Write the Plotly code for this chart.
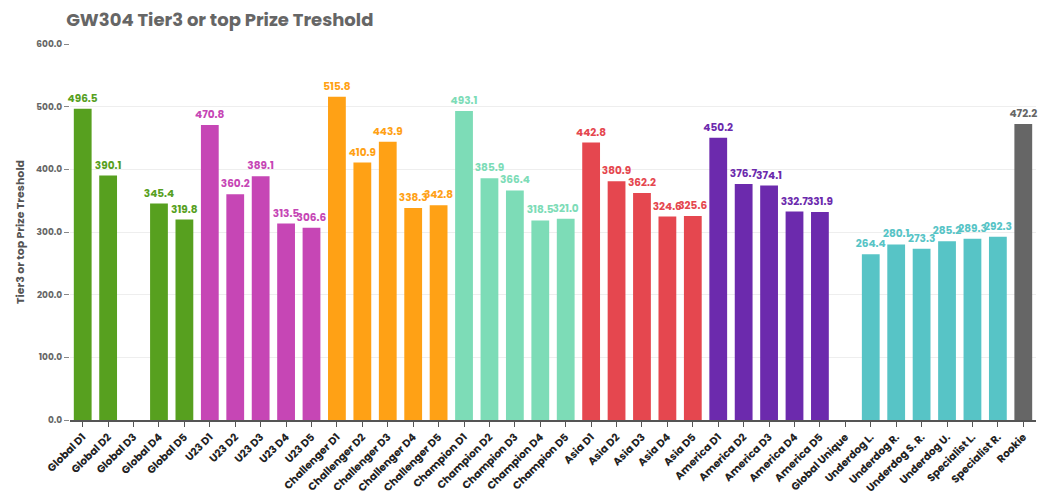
import plotly.graph_objects as go

categories = ["Global D1","Global D2","Global D3","Global D4","Global D5",
              "U23 D1","U23 D2","U23 D3","U23 D4","U23 D5",
              "Challenger D1","Challenger D2","Challenger D3","Challenger D4","Challenger D5",
              "Champion D1","Champion D2","Champion D3","Champion D4","Champion D5",
              "Asia D1","Asia D2","Asia D3","Asia D4","Asia D5",
              "America D1","America D2","America D3","America D4","America D5",
              "Global Unique",
              "Underdog L.","Underdog R.","Underdog S. R.","Underdog U.","Specialist L.","Specialist R.",
              "Rookie"]
values = [496.5, 390.1, None, 345.4, 319.8,
          470.8, 360.2, 389.1, 313.5, 306.6,
          515.8, 410.9, 443.9, 338.3, 342.8,
          493.1, 385.9, 366.4, 318.5, 321.0,
          442.8, 380.9, 362.2, 324.6, 325.6,
          450.2, 376.7, 374.1, 332.7, 331.9,
          None,
          264.4, 280.1, 273.3, 285.2, 289.3, 292.3,
          472.2]
group_colors = {
    "Global": "#57a01f", "U23": "#c646b5", "Challenger": "#ffa115",
    "Champion": "#7ddcb7", "Asia": "#e5474f", "America": "#6c2aad",
    "Special": "#57c4c6", "Rookie": "#666666",
}
groups = (["Global"]*5 + ["U23"]*5 + ["Challenger"]*5 + ["Champion"]*5 +
          ["Asia"]*5 + ["America"]*5 + ["Global"] + ["Special"]*6 + ["Rookie"])
colors = [group_colors[g] for g in groups]

font_family = "Poppins, 'Open Sans', Lato, sans-serif"

fig = go.Figure(go.Bar(
    x=categories, y=values,
    marker=dict(color=colors, line=dict(width=0)),
    text=[("%.1f" % v) if v is not None else "" for v in values],
    textposition="outside",
    constraintext="none",
    textfont=dict(color=colors, size=10.5, family=font_family, weight="bold"),
    cliponaxis=False,
    hoverinfo="x+y",
))

fig.update_layout(
    width=1048, height=487,
    margin=dict(l=62, r=20, t=36, b=75),
    paper_bgcolor="white", plot_bgcolor="white",
    bargap=0.3,
    showlegend=False,
    title=dict(text="<b>GW304 Tier3 or top Prize Treshold</b>", x=0.0555, xanchor="left",
               y=0.977, yanchor="middle", yref="container",
               font=dict(size=18, color="#666666", family=font_family)),
    font=dict(family=font_family),
)
fig.update_yaxes(
    range=[0, 600], tickvals=[0, 100, 200, 300, 400, 500, 600],
    tickformat=".1f", ticks="outside", ticklen=5, tickcolor="#888888",
    tickfont=dict(size=9, color="#666666", family=font_family, weight="bold"),
    showgrid=True, gridcolor="#eeeeee", zeroline=False,
    showline=False, automargin=False,
    title=dict(text="<b>Tier3 or top Prize Treshold</b>", standoff=9,
               font=dict(size=11, color="#555555", family=font_family)),
)
fig.update_xaxes(
    tickangle=-45, ticks="outside", ticklen=5, tickcolor="#555555",
    tickfont=dict(size=10.5, color="#222222", family=font_family, weight="bold"),
    showline=True, linecolor="#555555", linewidth=1.5, automargin=False,
    categoryorder="array", categoryarray=categories,
)

fig.write_html("out.html")
